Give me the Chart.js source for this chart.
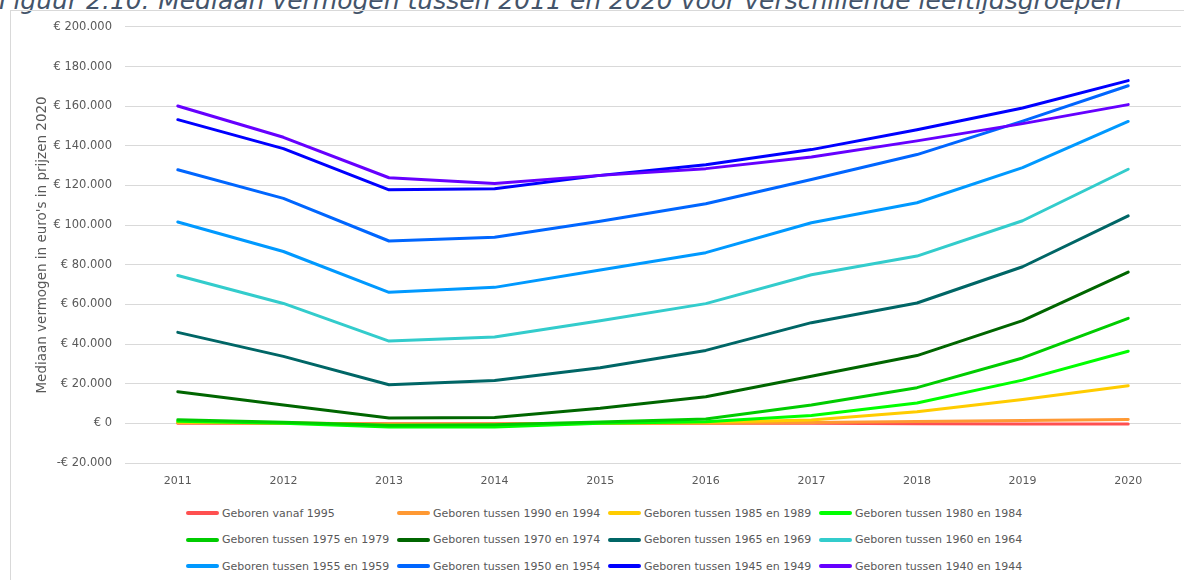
<!DOCTYPE html>
<html>
<head>
<meta charset="utf-8">
<script src="https://cdn.jsdelivr.net/npm/chart.js@4.4.1/dist/chart.umd.min.js"></script>
<style>
  body { margin: 0; width: 1184px; height: 580px; overflow: hidden; background: #fff; position: relative; font-family: 'DejaVu Sans', sans-serif; }
  #title { position: absolute; left: -1px; top: -12px; font-size: 25px; line-height: 25px; font-style: italic; color: #44546a; white-space: nowrap; }
  #frame { position: absolute; left: 10px; top: 10px; width: 1200px; height: 600px; border: 1px solid #d9d9d9; }
  #wrap { position: absolute; left: 11px; top: 7px; width: 1173px; height: 484px; }
  #legend { position: absolute; left: 186px; top: 504px; display: grid; grid-template-columns: repeat(4, 211px); grid-auto-rows: 26.5px; }
  .item { display: flex; align-items: center; height: 18px; font-size: 11px; color: #595959; white-space: nowrap; }
  .swatch { width: 33px; height: 4px; margin-right: 3px; border-radius: 2px; }
</style>
</head>
<body>
<div id="title">Figuur 2.10: Mediaan vermogen tussen 2011 en 2020 voor verschillende leeftijdsgroepen</div>
<div id="frame"></div>
<div id="wrap"><canvas id="chart"></canvas></div>
<div id="legend"></div>
<script>
var years = ['2011', '2012', '2013', '2014', '2015', '2016', '2017', '2018', '2019', '2020'];

var names = [
  'Geboren vanaf 1995',
  'Geboren tussen 1990 en 1994',
  'Geboren tussen 1985 en 1989',
  'Geboren tussen 1980 en 1984',
  'Geboren tussen 1975 en 1979',
  'Geboren tussen 1970 en 1974',
  'Geboren tussen 1965 en 1969',
  'Geboren tussen 1960 en 1964',
  'Geboren tussen 1955 en 1959',
  'Geboren tussen 1950 en 1954',
  'Geboren tussen 1945 en 1949',
  'Geboren tussen 1940 en 1944'
];

var colors = ['#ff5050', '#ff9933', '#ffcc00', '#00ff00', '#00cc00', '#006600',
              '#006666', '#33cccc', '#0099ff', '#0066ff', '#0000ff', '#6600ff'];

var b1995 = [0, 0, -200, -200, 0, 0, 0, -200, -300, -300];
var b1990 = [300, 200, -300, -300, 0, 100, 400, 900, 1400, 2000];
var b1985 = [500, 200, -800, -800, 0, 500, 1700, 5800, 12000, 19000];
var b1980 = [1000, 0, -1800, -1800, 0, 800, 4000, 10300, 21800, 36400];
var b1975 = [1800, 500, -1000, -700, 700, 2200, 9300, 18000, 33000, 53000];
var b1970 = [16000, 9300, 2700, 3000, 7600, 13400, 23800, 34200, 51800, 76300];
var b1965 = [45900, 33800, 19500, 21600, 28000, 36800, 50800, 60700, 79000, 104700];
var b1960 = [74600, 60500, 41500, 43600, 51800, 60400, 75000, 84400, 102200, 128200];
var b1955 = [101600, 86700, 66100, 68600, 77400, 86100, 101200, 111300, 129000, 152300];
var b1950 = [127900, 113500, 92000, 93900, 102000, 110800, 123000, 135600, 152500, 170300];
var b1945 = [153200, 138600, 117800, 118300, 125100, 130500, 138100, 148100, 159100, 172900];
var b1940 = [160100, 144300, 123900, 121000, 125100, 128500, 134400, 142500, 151200, 160800];

var series = [b1995, b1990, b1985, b1980, b1975, b1970, b1965, b1960, b1955, b1950, b1945, b1940];

var grey = '#595959';

function euro(v) {
  var s = String(Math.abs(v)).replace(/\B(?=(\d{3})+(?!\d))/g, '.');
  return (v < 0 ? '-€ ' : '€ ') + s;
}

var ctx = document.getElementById('chart');

new Chart(ctx, {
  type: 'line',
  data: {
    labels: years,
    datasets: series.map(function (d, i) {
      return {
        label: names[i],
        data: d,
        borderColor: colors[i],
        backgroundColor: colors[i],
        order: series.length - 1 - i
      };
    })
  },
  options: {
    responsive: true,
    maintainAspectRatio: false,
    animation: false,
    layout: { padding: { top: 5, right: 3, bottom: 0, left: 0 } },
    elements: {
      point: { radius: 0 },
      line: { borderWidth: 3, tension: 0, borderCapStyle: 'round', borderJoinStyle: 'round' }
    },
    plugins: {
      legend: { display: false },
      tooltip: { enabled: false }
    },
    scales: {
      x: {
        offset: true,
        grid: { display: false, drawTicks: false },
        border: { display: false },
        ticks: { color: grey, font: { family: 'DejaVu Sans', size: 11 }, padding: 12 },
        afterFit: function (s) { s.height = 28; }
      },
      y: {
        min: -20000,
        max: 200000,
        grid: { color: '#d9d9d9', drawTicks: false },
        border: { display: false },
        ticks: {
          stepSize: 20000,
          color: grey,
          font: { family: 'DejaVu Sans', size: 11.5 },
          padding: 13,
          callback: function (v) { return euro(v); }
        },
        title: {
          display: true,
          text: "Mediaan vermogen in euro's in prijzen 2020",
          color: grey,
          font: { family: 'DejaVu Sans', size: 13.5 },
          padding: { top: 23, bottom: 0 }
        },
        afterFit: function (s) { s.width = 114; }
      }
    }
  }
});

var legend = document.getElementById('legend');
names.forEach(function (n, i) {
  var item = document.createElement('div');
  item.className = 'item';
  var sw = document.createElement('span');
  sw.className = 'swatch';
  sw.style.background = colors[i];
  var tx = document.createElement('span');
  tx.textContent = n;
  item.appendChild(sw);
  item.appendChild(tx);
  legend.appendChild(item);
});
</script>
</body>
</html>
